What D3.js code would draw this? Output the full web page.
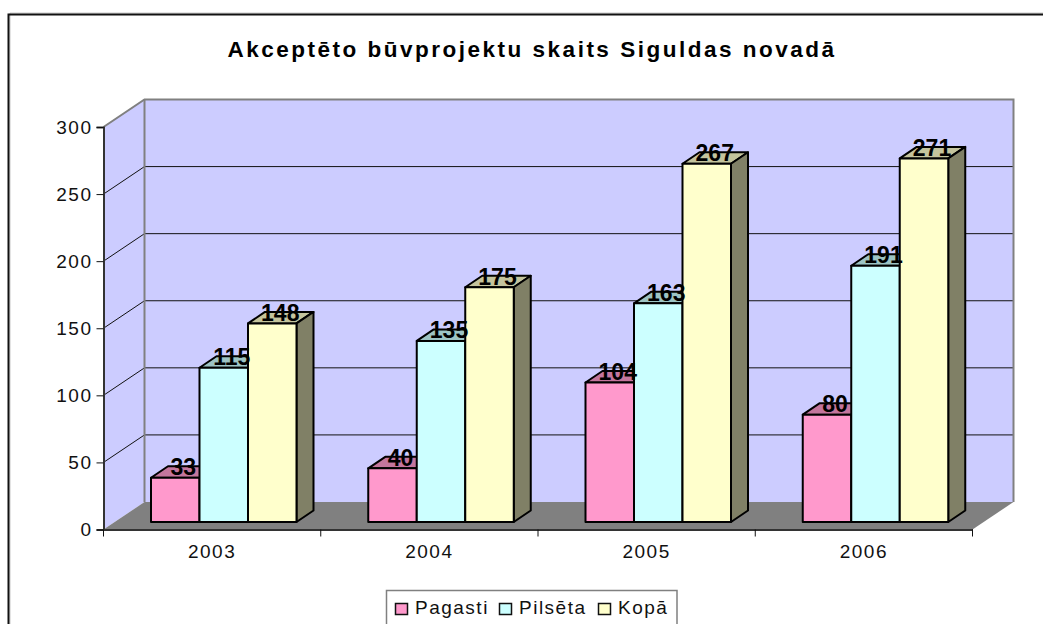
<!DOCTYPE html>
<html><head><meta charset="utf-8">
<script src="https://cdn.jsdelivr.net/npm/d3@7"></script>
<style>html,body{margin:0;padding:0;background:#fff}svg{display:block}text{font-family:"Liberation Sans",Arial,sans-serif}</style>
</head><body><svg id="c" width="1043" height="624"></svg>
<script>
const title = "Akceptēto būvprojektu skaits Siguldas novadā";
const years = ["2003","2004","2005","2006"];
const seriesNames = ["Pagasti","Pilsēta","Kopā"];
const pagasti = [33,40,104,80];
const pilseta = [115,135,163,191];
const kopa = [148,175,267,271];
const seriesValues = [pagasti,pilseta,kopa];
const yTicks = [0,50,100,150,200,250,300];
const colors = ["#ff99cc","#ccffff","#ffffcc"];
const topColors = ["#c4769d","#9dc4c4","#c4c49d"];
const sideColors = ["#80667f","#668080","#808066"];

const svg = d3.select("#c");
// frame
svg.append("path").attr("d","M10,624V13H1043").attr("fill","none").attr("stroke","#c8c8c8").attr("stroke-width",1);
svg.append("path").attr("d","M8.5,624V14.5H1043").attr("fill","none").attr("stroke","#111").attr("stroke-width",2);

// plot geometry
const x0=103.5,x1=972.5,yBase=529.5,yTop=127;
const dx=41,dy=-27.5;
const x = d3.scaleBand().domain(years).range([x0,x1]).paddingInner(0).paddingOuter(0);
const y = d3.scaleLinear().domain([0,300]).range([yBase,yTop]);
const inner = d3.scaleBand().domain(d3.range(3)).range([47.5,47.5+145.5]);
const bdx=17,bdy=-11.5,bar0=-7.5;

const P = (a)=>a.map(p=>p.join(",")).join(" ");
// walls
svg.append("polygon").attr("points",P([[x0+dx,y(300)+dy],[x1+dx,y(300)+dy],[x1+dx,y(0)+dy],[x0+dx,y(0)+dy]])).attr("fill","#ccccff");
svg.append("polygon").attr("points",P([[x0,y(300)],[x0+dx,y(300)+dy],[x0+dx,y(0)+dy],[x0,y(0)]])).attr("fill","#ccccff");
svg.append("polygon").attr("points",P([[x0,y(0)],[x0+dx,y(0)+dy],[x1+dx,y(0)+dy],[x1,y(0)]])).attr("fill","#808080");
// grid
yTicks.slice(1,-1).forEach(t=>{
  svg.append("polyline").attr("points",P([[x0,y(t)],[x0+dx,y(t)+dy],[x1+dx,y(t)+dy]])).attr("fill","none").attr("stroke","#111").attr("stroke-width",1);
});
// wall outlines
svg.append("polyline").attr("points",P([[x0,y(300)],[x0+dx,y(300)+dy],[x1+dx,y(300)+dy],[x1+dx,y(0)+dy]])).attr("fill","none").attr("stroke","#808080").attr("stroke-width",2);
svg.append("line").attr("x1",x0+dx).attr("x2",x0+dx).attr("y1",y(300)+dy).attr("y2",y(0)+dy).attr("stroke","#808080").attr("stroke-width",2);

// bars
const barY0=yBase+bar0;
const bars=svg.append("g").attr("stroke","#000").attr("stroke-width",2).attr("stroke-linejoin","round");
const labels=[];
years.forEach((yr,i)=>{
  d3.range(3).forEach(s=>{
    const v=seriesValues[s][i];
    const L=x(yr)+inner(s), R=L+inner.bandwidth(), T=y(v)+bar0;
    bars.append("polygon").attr("points",P([[L,T],[L+bdx,T+bdy],[R+bdx,T+bdy],[R,T]])).attr("fill",topColors[s]);
    bars.append("polygon").attr("points",P([[R,T],[R+bdx,T+bdy],[R+bdx,barY0+bdy],[R,barY0]])).attr("fill",sideColors[s]);
    bars.append("rect").attr("x",L).attr("y",T).attr("width",R-L).attr("height",barY0-T).attr("fill",colors[s]);
    labels.push({v,x:(L+R)/2+bdx/2-0.5,y:T-2.5});
  });
});
svg.append("g").selectAll("text").data(labels).join("text")
  .attr("x",d=>d.x).attr("y",d=>d.y).attr("text-anchor","middle")
  .attr("font-size",23).attr("font-weight","bold").attr("fill","#000").text(d=>d.v);

// axes
const yAxis=svg.append("g").attr("transform",`translate(${x0},0)`).call(d3.axisLeft(y).tickValues(yTicks).tickSize(7).tickPadding(4));
const xEdge=d3.scalePoint().domain(d3.range(5)).range([x0,x1]);
const xAxisG=svg.append("g").attr("transform",`translate(0,${yBase})`).call(d3.axisBottom(x).tickSize(0).tickPadding(15));
d3.range(5).forEach(k=>{
  svg.append("line").attr("x1",xEdge(k)).attr("x2",xEdge(k)).attr("y1",yBase).attr("y2",yBase+7).attr("stroke","#111").attr("stroke-width",1);
});
[yAxis,xAxisG].forEach(g=>{
  g.selectAll("path.domain").attr("stroke","#333").attr("stroke-width",2);
  g.selectAll("line").attr("stroke","#111");
  g.selectAll("text").attr("font-family",'"Liberation Sans",Arial,sans-serif').attr("font-size",19).attr("letter-spacing","1.5px").attr("fill","#111");
});

// title
svg.append("text").attr("x",532).attr("y",56.5).attr("text-anchor","middle").attr("font-size",22.5).attr("font-weight","bold").attr("letter-spacing","2.5px").attr("fill","#000").text(title);

// legend
svg.append("path").attr("d","M386.5,624V590.5H677V624").attr("fill","#fff").attr("stroke","#808080").attr("stroke-width",1.5);
const legendX=[395.5,499.5,598.5], legendT=[415,519,618];
seriesNames.forEach((n,i)=>{
  svg.append("rect").attr("x",legendX[i]).attr("y",603.5).attr("width",12).attr("height",11).attr("fill",colors[i]).attr("stroke","#111").attr("stroke-width",1.5);
  svg.append("text").attr("x",legendT[i]).attr("y",613.5).attr("font-size",19).attr("letter-spacing","1.5px").attr("fill","#111").text(n);
});
</script></body></html>
